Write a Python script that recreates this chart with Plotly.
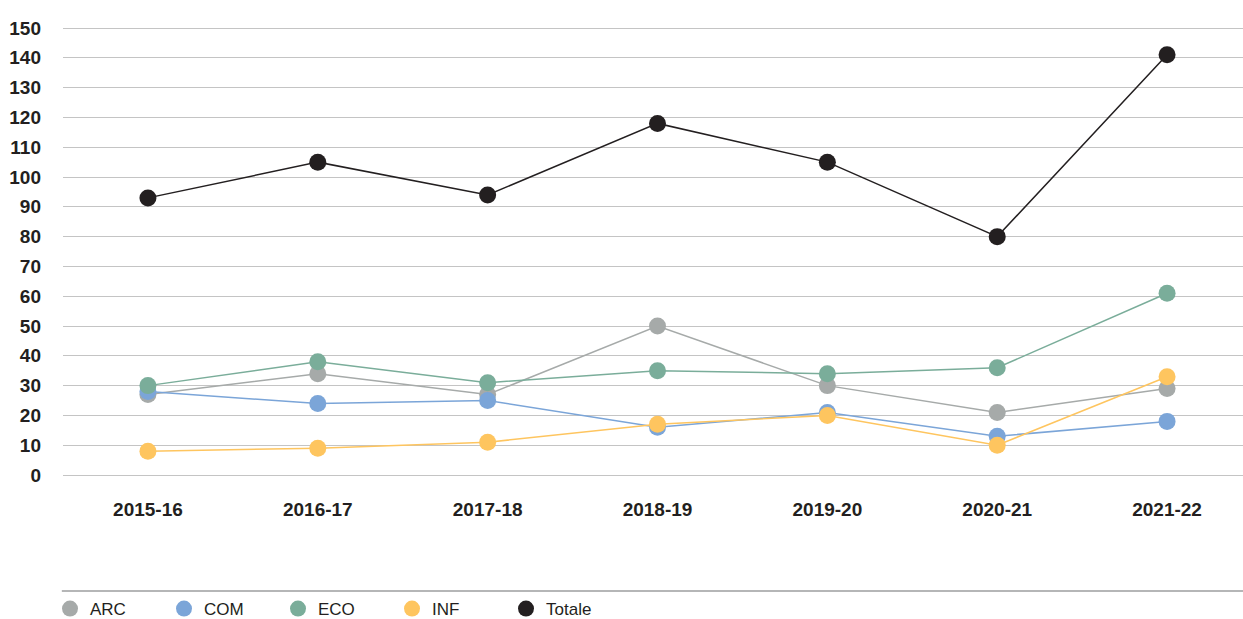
import plotly.graph_objects as go

years = ["2015-16", "2016-17", "2017-18", "2018-19", "2019-20", "2020-21", "2021-22"]
arc = [27, 34, 27, 50, 30, 21, 29]
com = [28, 24, 25, 16, 21, 13, 18]
eco = [30, 38, 31, 35, 34, 36, 61]
inf = [8, 9, 11, 17, 20, 10, 33]
totale = [93, 105, 94, 118, 105, 80, 141]

series = [
    ("ARC", arc, "#a6aaa9"),
    ("COM", com, "#7ba5d8"),
    ("ECO", eco, "#7aad9a"),
    ("INF", inf, "#fec55f"),
    ("Totale", totale, "#231f20"),
]

fig = go.Figure()
for name, vals, col in series:
    fig.add_trace(go.Scatter(
        x=years, y=vals, mode="lines+markers", name=name,
        line=dict(color=col, width=1.5),
        marker=dict(color=col, size=17),
        showlegend=False,
    ))
for name, vals, col in series:
    fig.add_trace(go.Scatter(
        x=[None], y=[None], mode="markers", name=name,
        marker=dict(color=col, size=18),
        showlegend=True,
    ))

W, H = 1243, 619
L, R, T, B = 63, 0, 20, 129
fig.update_layout(
    width=W, height=H,
    margin=dict(l=L, r=R, t=T, b=B, autoexpand=False),
    paper_bgcolor="white", plot_bgcolor="white",
    font=dict(family="Liberation Sans, Arial, sans-serif", color="#231f20"),
    xaxis=dict(
        type="category", categoryorder="array", categoryarray=years,
        range=[-0.5, 6.447], showgrid=False, zeroline=False, showline=False,
        ticks="", tickfont=dict(size=19, family="Liberation Sans, Arial, sans-serif", weight="bold"),
        ticklabelstandoff=6, automargin=False,
    ),
    yaxis=dict(
        range=[-5.03, 152.7], tickvals=list(range(0, 151, 10)),
        showgrid=True, gridcolor="#c4c4c4", gridwidth=1.2, zeroline=False,
        showline=False, ticks="",
        tickfont=dict(size=19, family="Liberation Sans, Arial, sans-serif", weight="bold"),
        ticklabelstandoff=21, automargin=False,
    ),
    legend=dict(
        orientation="h", x=50 / W, xref="container", xanchor="left",
        y=(H - 609) / H, yref="container", yanchor="middle",
        font=dict(size=17, color="#231f20"),
        entrywidth=69, entrywidthmode="pixels",
        itemclick=False, bgcolor="rgba(0,0,0,0)",
    ),
    shapes=[dict(type="line", xref="paper", yref="paper", x0=-0.001, x1=1.0,
                 y0=-0.2149, y1=-0.2149, line=dict(color="#6d6e71", width=1.2))],
)

fig.write_html(
    "out.html",
    config={"displayModeBar": False},
    post_script="document.body.style.margin='0';document.body.style.overflow='hidden';",
)
